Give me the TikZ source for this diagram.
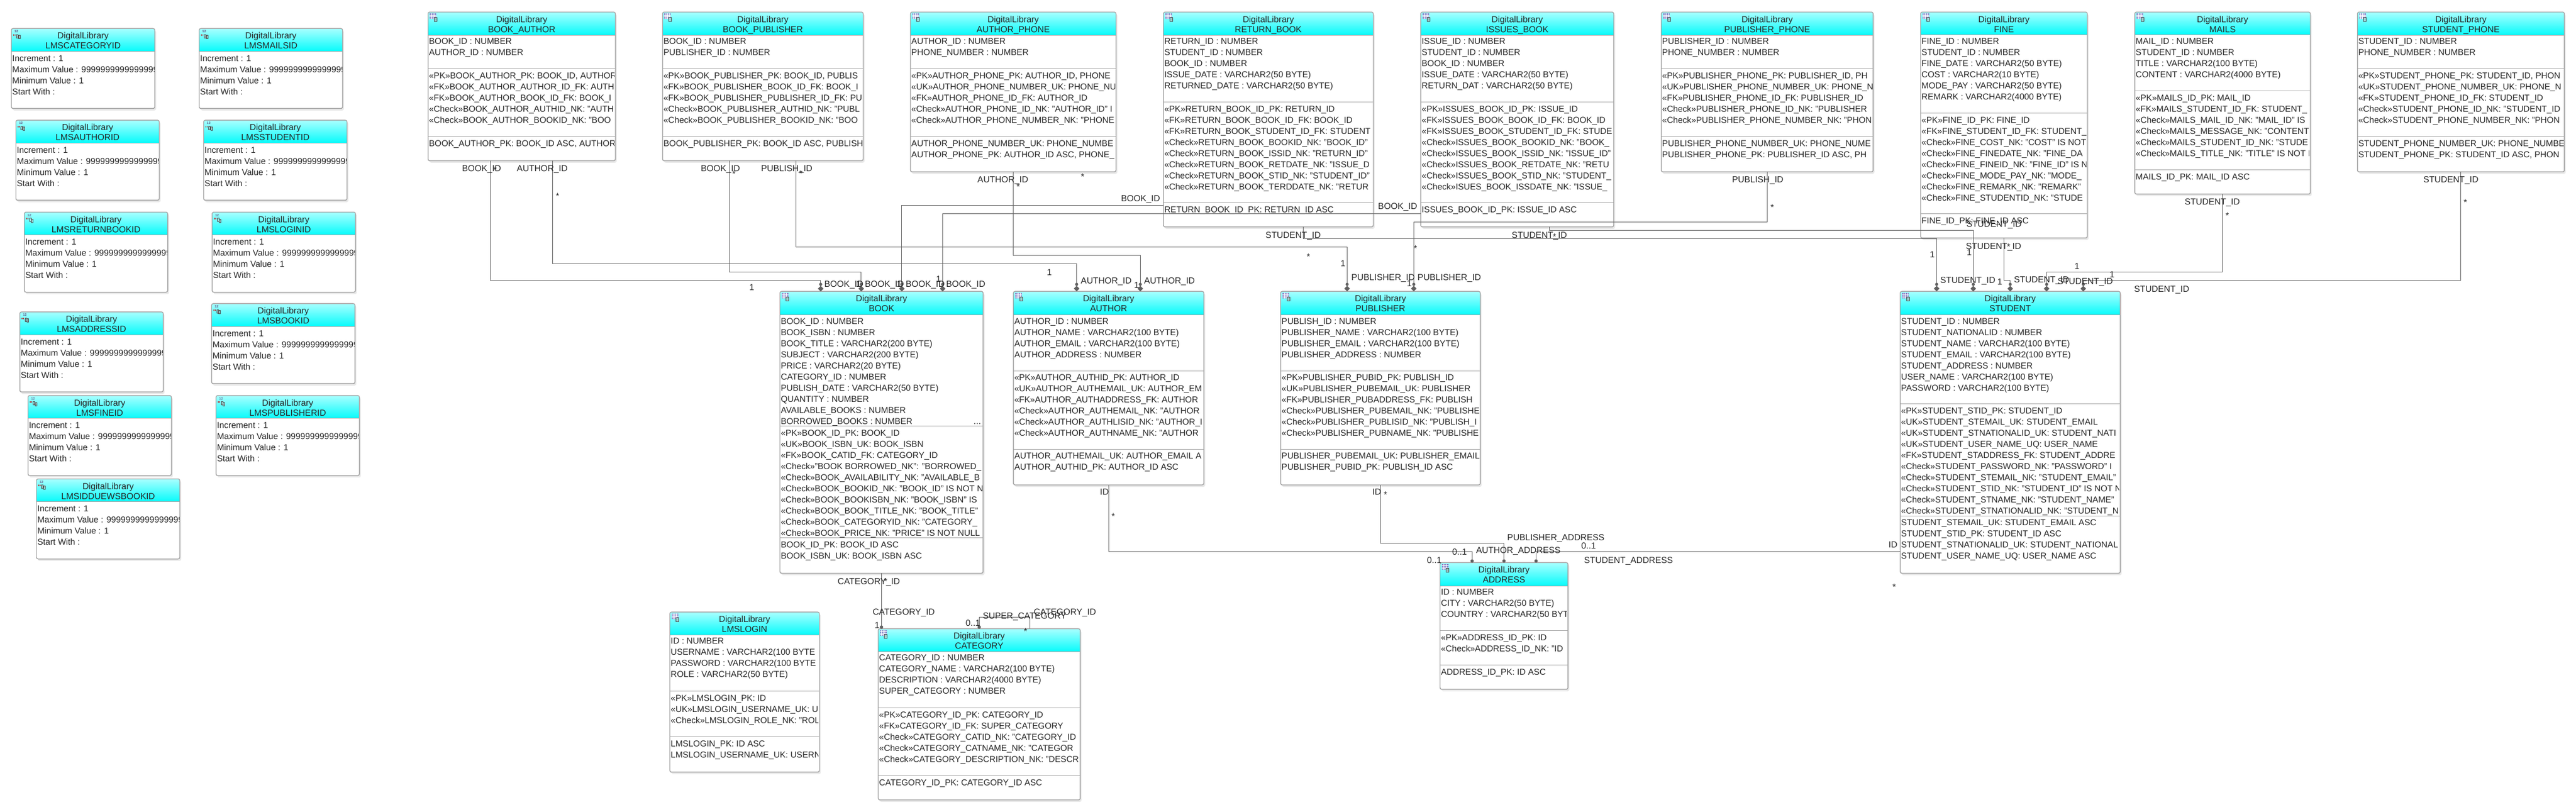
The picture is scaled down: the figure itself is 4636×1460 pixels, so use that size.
\documentclass[tikz,border=0pt]{standalone}
\usepackage{fontspec}
\setmainfont{Liberation Sans}
\usetikzlibrary{arrows.meta,shadows}
\definecolor{headtop}{HTML}{A8FFFF}
\definecolor{headbot}{HTML}{06FBFB}
\definecolor{framegray}{HTML}{A4A4A4}
\definecolor{linkgray}{HTML}{606060}
\definecolor{iconblue}{HTML}{8C8CCC}
\newcommand{\rowfont}{\fontsize{15.5}{20}\selectfont}
\newcommand{\linkfont}{\fontsize{15.8}{20}\selectfont}
\newcommand{\titlefont}{\fontsize{15.8}{18}\selectfont}
\tikzset{
    tablebox/.style={draw=framegray,fill=white,line width=1.2pt,rounded corners=3pt,inner sep=0pt,outer sep=0pt,
        drop shadow={shadow xshift=2.5pt,shadow yshift=-3.5pt,fill=black!40,opacity=.22}},
    frameline/.style={draw=framegray,line width=1.2pt},
    titletext/.style={font=\titlefont,align=center,inner sep=0pt,yshift=-5.6pt,text=black!85},
    rowtext/.style={font=\rowfont,align=left,anchor=north west,inner sep=0pt,xshift=1.5pt,text=black!85},
    linktext/.style={font=\linkfont,inner sep=0pt,text height=11.4pt,text depth=0pt,text=black!85},
    startext/.style={font=\linkfont,inner sep=0pt,yshift=-4pt,text=black!85},
    fklink/.style={draw=linkgray,line width=1pt,-{Circle[length=5.5pt] Diamond[length=10pt,width=10pt]}},
    nulllink/.style={draw=linkgray,line width=1pt,-{Circle[length=6pt]}},
}
% small grid with a page on it
\newcommand{\tableicon}[2]{
    \fill[iconblue] (#1,#2) rectangle ++(12,10);
    \foreach \k in {1,2,3} {
        \draw[white,line width=.4pt] (#1+3*\k,#2) -- ++(0,10);
        \draw[white,line width=.4pt] (#1,#2+2.5*\k) -- ++(12,0);
    }
    \filldraw[draw=black!70,fill=teal!40,line width=.4pt] (#1+8,#2+7) rectangle ++(5,7);
}
% name, left, right, top, bottom, header bottom, title
\newcommand{\dbtable}[7]{
    \node[tablebox,anchor=north west,minimum width={(#3-#2)*1pt},minimum height={(#5-#4)*1pt}] (#1) at (#2,#4) {};
    \shade[top color=headtop,bottom color=headbot] (#2,#6) [rounded corners=3pt] -- (#2,#4) -- (#3,#4) [sharp corners] -- (#3,#6) -- cycle;
    \draw[frameline] (#2,#6) -- (#3,#6);
    \draw[frameline,rounded corners=3pt] (#2,#4) rectangle (#3,#5);
    \tableicon{#2+3}{#4+2.6}
    \node[titletext,anchor=north] (#1head) at (#1.north) {\strut DigitalLibrary\\#7};
}
% name, header bottom, divider, divider, columns, constraints, indexes
\newcommand{\dbrows}[7]{
    \draw[frameline] (#1.west |- 0,#3) -- (#1.east |- 0,#3);
    \draw[frameline] (#1.west |- 0,#4) -- (#1.east |- 0,#4);
    \begin{scope}
        \clip ([xshift=1pt]#1.north west) rectangle ([xshift=-2pt]#1.south east);
        \node[rowtext] (#1attr) at ([yshift=-2pt]#1.west |- 0,#2) {\strut #5};
        \node[rowtext] (#1cons) at ([yshift=-3.5pt]#1.west |- 0,#3) {\strut #6};
        \node[rowtext] (#1idx) at ([yshift=-3.5pt]#1.west |- 0,#4) {\strut #7};
    \end{scope}
}
% name, left, top, title
\newcommand{\seqbox}[4]{
    \node[tablebox,anchor=north west,minimum width=258pt,minimum height=144pt] (#1) at (#2,#3) {};
    \shade[top color=headtop,bottom color=headbot] (#2,#3+41) [rounded corners=3pt] -- (#2,#3) -- (#2+258,#3) [sharp corners] -- (#2+258,#3+41) -- cycle;
    \draw[frameline] (#2,#3+41) -- (#2+258,#3+41);
    \draw[frameline,rounded corners=3pt] (#2,#3) rectangle (#2+258,#3+144);
    \node[font=\fontsize{6}{6}\selectfont\bfseries,text=iconblue!70!black,inner sep=0pt] (#1num) at (#2+9,#3+5.5) {12};
    \fill[red!80!black] (#2+3.5,#3+10.5) rectangle ++(1.2,2.5) (#2+6,#3+10.5) rectangle ++(1.2,2.5);
    \filldraw[draw=black!70,fill=teal!40,line width=.4pt] (#2+9,#3+10.5) rectangle ++(3,6) (#2+12.5,#3+12) rectangle ++(3,6);
    \node[titletext,anchor=north] (#1head) at (#1.north) {\strut DigitalLibrary\\#4};
    \begin{scope}
        \clip ([xshift=1pt]#1.north west) rectangle ([xshift=-1pt]#1.south east);
        \node[rowtext] (#1rows) at (#2,#3+44.5) {\strut Increment : 1\\Maximum Value : 9999999999999999999999999999\\Minimum Value : 1\\Start With :};
    \end{scope}
}
\begin{document}
\begin{tikzpicture}[x=1pt,y=-1pt]
    \useasboundingbox (0,0) rectangle (4636,1460);
    \foreach \n/\x/\y/\t in {seqcat/20.5/51.3/LMSCATEGORYID,seqmail/358.5/51.3/LMSMAILSID,
        seqauth/28.6/216.3/LMSAUTHORID,seqstud/366.5/216.3/LMSSTUDENTID,
        seqret/43.8/381.7/LMSRETURNBOOKID,seqlog/381.7/381.7/LMSLOGINID,
        seqaddr/35.7/561.3/LMSADDRESSID,seqbook/380.8/546.3/LMSBOOKID,
        seqfine/50.4/711.7/LMSFINEID,seqpub/388.8/711.7/LMSPUBLISHERID,
        seqdue/65.6/861.7/LMSIDDUEWSBOOKID} {
        \seqbox{\n}{\x}{\y}{\t}
    }

    \dbtable{bookauthor}{770.4}{1107.4}{21.7}{289.3}{63.3}{BOOK\_AUTHOR}
    \dbrows{bookauthor}{63.3}{123.3}{245.3}
        {BOOK\_ID : NUMBER\\AUTHOR\_ID : NUMBER}
        {«PK»BOOK\_AUTHOR\_PK: BOOK\_ID, AUTHOR\\«FK»BOOK\_AUTHOR\_AUTHOR\_ID\_FK: AUTH\\«FK»BOOK\_AUTHOR\_BOOK\_ID\_FK: BOOK\_I\\«Check»BOOK\_AUTHOR\_AUTHID\_NK: "AUTH\\«Check»BOOK\_AUTHOR\_BOOKID\_NK: "BOO}
        {BOOK\_AUTHOR\_PK: BOOK\_ID ASC, AUTHOR}

    \dbtable{bookpublisher}{1192.4}{1553.4}{21.7}{289.3}{63.3}{BOOK\_PUBLISHER}
    \dbrows{bookpublisher}{63.3}{123.3}{245.3}
        {BOOK\_ID : NUMBER\\PUBLISHER\_ID : NUMBER}
        {«PK»BOOK\_PUBLISHER\_PK: BOOK\_ID, PUBLIS\\«FK»BOOK\_PUBLISHER\_BOOK\_ID\_FK: BOOK\_I\\«FK»BOOK\_PUBLISHER\_PUBLISHER\_ID\_FK: PU\\«Check»BOOK\_PUBLISHER\_AUTHID\_NK: "PUBL\\«Check»BOOK\_PUBLISHER\_BOOKID\_NK: "BOO}
        {BOOK\_PUBLISHER\_PK: BOOK\_ID ASC, PUBLISH}

    \dbtable{authorphone}{1638.5}{2008.4}{21.7}{309.3}{63.3}{AUTHOR\_PHONE}
    \dbrows{authorphone}{63.3}{123.3}{245.3}
        {AUTHOR\_ID : NUMBER\\PHONE\_NUMBER : NUMBER}
        {«PK»AUTHOR\_PHONE\_PK: AUTHOR\_ID, PHONE\\«UK»AUTHOR\_PHONE\_NUMBER\_UK: PHONE\_NU\\«FK»AUTHOR\_PHONE\_ID\_FK: AUTHOR\_ID\\«Check»AUTHOR\_PHONE\_ID\_NK: "AUTHOR\_ID" I\\«Check»AUTHOR\_PHONE\_NUMBER\_NK: "PHONE}
        {AUTHOR\_PHONE\_NUMBER\_UK: PHONE\_NUMBE\\AUTHOR\_PHONE\_PK: AUTHOR\_ID ASC, PHONE\_}

    \dbtable{returnbook}{2093.8}{2471.4}{21.7}{408.3}{63.3}{RETURN\_BOOK}
    \dbrows{returnbook}{63.3}{183.3}{364.3}
        {RETURN\_ID : NUMBER\\STUDENT\_ID : NUMBER\\BOOK\_ID : NUMBER\\ISSUE\_DATE : VARCHAR2(50 BYTE)\\RETURNED\_DATE : VARCHAR2(50 BYTE)}
        {«PK»RETURN\_BOOK\_ID\_PK: RETURN\_ID\\«FK»RETURN\_BOOK\_BOOK\_ID\_FK: BOOK\_ID\\«FK»RETURN\_BOOK\_STUDENT\_ID\_FK: STUDENT\\«Check»RETURN\_BOOK\_BOOKID\_NK: "BOOK\_ID"\\«Check»RETURN\_BOOK\_ISSID\_NK: "RETURN\_ID"\\«Check»RETURN\_BOOK\_RETDATE\_NK: "ISSUE\_D\\«Check»RETURN\_BOOK\_STID\_NK: "STUDENT\_ID"\\«Check»RETURN\_BOOK\_TERDDATE\_NK: "RETUR}
        {RETURN\_BOOK\_ID\_PK: RETURN\_ID ASC}

    \dbtable{issuesbook}{2556.9}{2904.2}{21.7}{408.3}{63.3}{ISSUES\_BOOK}
    \dbrows{issuesbook}{63.3}{183.3}{364.3}
        {ISSUE\_ID : NUMBER\\STUDENT\_ID : NUMBER\\BOOK\_ID : NUMBER\\ISSUE\_DATE : VARCHAR2(50 BYTE)\\RETURN\_DAT : VARCHAR2(50 BYTE)}
        {«PK»ISSUES\_BOOK\_ID\_PK: ISSUE\_ID\\«FK»ISSUES\_BOOK\_BOOK\_ID\_FK: BOOK\_ID\\«FK»ISSUES\_BOOK\_STUDENT\_ID\_FK: STUDE\\«Check»ISSUES\_BOOK\_BOOKID\_NK: "BOOK\_\\«Check»ISSUES\_BOOK\_ISSID\_NK: "ISSUE\_ID"\\«Check»ISSUES\_BOOK\_RETDATE\_NK: "RETU\\«Check»ISSUES\_BOOK\_STID\_NK: "STUDENT\_\\«Check»ISUES\_BOOK\_ISSDATE\_NK: "ISSUE\_}
        {ISSUES\_BOOK\_ID\_PK: ISSUE\_ID ASC}

    \dbtable{publisherphone}{2989.7}{3371}{21.7}{309.3}{63.3}{PUBLISHER\_PHONE}
    \dbrows{publisherphone}{63.3}{123.3}{245.3}
        {PUBLISHER\_ID : NUMBER\\PHONE\_NUMBER : NUMBER}
        {«PK»PUBLISHER\_PHONE\_PK: PUBLISHER\_ID, PH\\«UK»PUBLISHER\_PHONE\_NUMBER\_UK: PHONE\_N\\«FK»PUBLISHER\_PHONE\_ID\_FK: PUBLISHER\_ID\\«Check»PUBLISHER\_PHONE\_ID\_NK: "PUBLISHER\\«Check»PUBLISHER\_PHONE\_NUMBER\_NK: "PHON}
        {PUBLISHER\_PHONE\_NUMBER\_UK: PHONE\_NUME\\PUBLISHER\_PHONE\_PK: PUBLISHER\_ID ASC, PH}

    \dbtable{fine}{3456.5}{3756.4}{21.7}{428.3}{62.3}{FINE}
    \dbrows{fine}{63.3}{203.3}{384.3}
        {FINE\_ID : NUMBER\\STUDENT\_ID : NUMBER\\FINE\_DATE : VARCHAR2(50 BYTE)\\COST : VARCHAR2(10 BYTE)\\MODE\_PAY : VARCHAR2(50 BYTE)\\REMARK : VARCHAR2(4000 BYTE)}
        {«PK»FINE\_ID\_PK: FINE\_ID\\«FK»FINE\_STUDENT\_ID\_FK: STUDENT\_\\«Check»FINE\_COST\_NK: "COST" IS NOT\\«Check»FINE\_FINEDATE\_NK: "FINE\_DA\\«Check»FINE\_FINEID\_NK: "FINE\_ID" IS N\\«Check»FINE\_MODE\_PAY\_NK: "MODE\_\\«Check»FINE\_REMARK\_NK: "REMARK"\\«Check»FINE\_STUDENTID\_NK: "STUDE}
        {FINE\_ID\_PK: FINE\_ID ASC}

    \dbtable{mails}{3842}{4157.8}{21.7}{349.3}{62.3}{MAILS}
    \dbrows{mails}{63.3}{163.3}{305.3}
        {MAIL\_ID : NUMBER\\STUDENT\_ID : NUMBER\\TITLE : VARCHAR2(100 BYTE)\\CONTENT : VARCHAR2(4000 BYTE)}
        {«PK»MAILS\_ID\_PK: MAIL\_ID\\«FK»MAILS\_STUDENT\_ID\_FK: STUDENT\_\\«Check»MAILS\_MAIL\_ID\_NK: "MAIL\_ID" IS\\«Check»MAILS\_MESSAGE\_NK: "CONTENT\\«Check»MAILS\_STUDENT\_ID\_NK: "STUDE\\«Check»MAILS\_TITLE\_NK: "TITLE" IS NOT N}
        {MAILS\_ID\_PK: MAIL\_ID ASC}

    \dbtable{studentphone}{4242.6}{4615}{21.7}{309.3}{63.3}{STUDENT\_PHONE}
    \dbrows{studentphone}{63.3}{123.3}{245.3}
        {STUDENT\_ID : NUMBER\\PHONE\_NUMBER : NUMBER}
        {«PK»STUDENT\_PHONE\_PK: STUDENT\_ID, PHON\\«UK»STUDENT\_PHONE\_NUMBER\_UK: PHONE\_N\\«FK»STUDENT\_PHONE\_ID\_FK: STUDENT\_ID\\«Check»STUDENT\_PHONE\_ID\_NK: "STUDENT\_ID\\«Check»STUDENT\_PHONE\_NUMBER\_NK: "PHON}
        {STUDENT\_PHONE\_NUMBER\_UK: PHONE\_NUMBE\\STUDENT\_PHONE\_PK: STUDENT\_ID ASC, PHON}

    \dbtable{book}{1403.6}{1769.3}{524.3}{1031.4}{566.8}{BOOK}
    \dbrows{book}{566.8}{766.4}{967.5}
        {BOOK\_ID : NUMBER\\BOOK\_ISBN : NUMBER\\BOOK\_TITLE : VARCHAR2(200 BYTE)\\SUBJECT : VARCHAR2(200 BYTE)\\PRICE : VARCHAR2(20 BYTE)\\CATEGORY\_ID : NUMBER\\PUBLISH\_DATE : VARCHAR2(50 BYTE)\\QUANTITY : NUMBER\\AVAILABLE\_BOOKS : NUMBER\\BORROWED\_BOOKS : NUMBER}
        {«PK»BOOK\_ID\_PK: BOOK\_ID\\«UK»BOOK\_ISBN\_UK: BOOK\_ISBN\\«FK»BOOK\_CATID\_FK: CATEGORY\_ID\\«Check»"BOOK BORROWED\_NK": "BORROWED\_\\«Check»BOOK\_AVAILABILITY\_NK: "AVAILABLE\_B\\«Check»BOOK\_BOOKID\_NK: "BOOK\_ID" IS NOT N\\«Check»BOOK\_BOOKISBN\_NK: "BOOK\_ISBN" IS\\«Check»BOOK\_BOOK\_TITLE\_NK: "BOOK\_TITLE"\\«Check»BOOK\_CATEGORYID\_NK: "CATEGORY\_\\«Check»BOOK\_PRICE\_NK: "PRICE" IS NOT NULL}
        {BOOK\_ID\_PK: BOOK\_ID ASC\\BOOK\_ISBN\_UK: BOOK\_ISBN ASC}

    \dbtable{author}{1823.8}{2166.5}{524.3}{872.5}{566.8}{AUTHOR}
    \dbrows{author}{566.8}{667.1}{808.2}
        {AUTHOR\_ID : NUMBER\\AUTHOR\_NAME : VARCHAR2(100 BYTE)\\AUTHOR\_EMAIL : VARCHAR2(100 BYTE)\\AUTHOR\_ADDRESS : NUMBER}
        {«PK»AUTHOR\_AUTHID\_PK: AUTHOR\_ID\\«UK»AUTHOR\_AUTHEMAIL\_UK: AUTHOR\_EM\\«FK»AUTHOR\_AUTHADDRESS\_FK: AUTHOR\\«Check»AUTHOR\_AUTHEMAIL\_NK: "AUTHOR\\«Check»AUTHOR\_AUTHLISID\_NK: "AUTHOR\_I\\«Check»AUTHOR\_AUTHNAME\_NK: "AUTHOR}
        {AUTHOR\_AUTHEMAIL\_UK: AUTHOR\_EMAIL A\\AUTHOR\_AUTHID\_PK: AUTHOR\_ID ASC}

    \dbtable{publisher}{2304.7}{2664}{524.3}{872.5}{566.8}{PUBLISHER}
    \dbrows{publisher}{566.8}{667.1}{808.2}
        {PUBLISH\_ID : NUMBER\\PUBLISHER\_NAME : VARCHAR2(100 BYTE)\\PUBLISHER\_EMAIL : VARCHAR2(100 BYTE)\\PUBLISHER\_ADDRESS : NUMBER}
        {«PK»PUBLISHER\_PUBID\_PK: PUBLISH\_ID\\«UK»PUBLISHER\_PUBEMAIL\_UK: PUBLISHER\\«FK»PUBLISHER\_PUBADDRESS\_FK: PUBLISH\\«Check»PUBLISHER\_PUBEMAIL\_NK: "PUBLISHE\\«Check»PUBLISHER\_PUBLISID\_NK: "PUBLISH\_I\\«Check»PUBLISHER\_PUBNAME\_NK: "PUBLISHE}
        {PUBLISHER\_PUBEMAIL\_UK: PUBLISHER\_EMAIL\\PUBLISHER\_PUBID\_PK: PUBLISH\_ID ASC}

    \dbtable{student}{3419.7}{3815.8}{524.3}{1031.4}{566.8}{STUDENT}
    \dbrows{student}{566.8}{726.4}{928.2}
        {STUDENT\_ID : NUMBER\\STUDENT\_NATIONALID : NUMBER\\STUDENT\_NAME : VARCHAR2(100 BYTE)\\STUDENT\_EMAIL : VARCHAR2(100 BYTE)\\STUDENT\_ADDRESS : NUMBER\\USER\_NAME : VARCHAR2(100 BYTE)\\PASSWORD : VARCHAR2(100 BYTE)}
        {«PK»STUDENT\_STID\_PK: STUDENT\_ID\\«UK»STUDENT\_STEMAIL\_UK: STUDENT\_EMAIL\\«UK»STUDENT\_STNATIONALID\_UK: STUDENT\_NATI\\«UK»STUDENT\_USER\_NAME\_UQ: USER\_NAME\\«FK»STUDENT\_STADDRESS\_FK: STUDENT\_ADDRE\\«Check»STUDENT\_PASSWORD\_NK: "PASSWORD" I\\«Check»STUDENT\_STEMAIL\_NK: "STUDENT\_EMAIL"\\«Check»STUDENT\_STID\_NK: "STUDENT\_ID" IS NOT N\\«Check»STUDENT\_STNAME\_NK: "STUDENT\_NAME"\\«Check»STUDENT\_STNATIONALID\_NK: "STUDENT\_N}
        {STUDENT\_STEMAIL\_UK: STUDENT\_EMAIL ASC\\STUDENT\_STID\_PK: STUDENT\_ID ASC\\STUDENT\_STNATIONALID\_UK: STUDENT\_NATIONAL\\STUDENT\_USER\_NAME\_UQ: USER\_NAME ASC}

    \dbtable{lmslogin}{1205.5}{1474.6}{1101.3}{1389.3}{1142.3}{LMSLOGIN}
    \dbrows{lmslogin}{1142.3}{1243.3}{1325.3}
        {ID : NUMBER\\USERNAME : VARCHAR2(100 BYTE\\PASSWORD : VARCHAR2(100 BYTE\\ROLE : VARCHAR2(50 BYTE)}
        {«PK»LMSLOGIN\_PK: ID\\«UK»LMSLOGIN\_USERNAME\_UK: U\\«Check»LMSLOGIN\_ROLE\_NK: "ROL}
        {LMSLOGIN\_PK: ID ASC\\LMSLOGIN\_USERNAME\_UK: USERN}

    \dbtable{category}{1580.5}{1944}{1131.3}{1439.3}{1172.7}{CATEGORY}
    \dbrows{category}{1172.7}{1273.3}{1395.3}
        {CATEGORY\_ID : NUMBER\\CATEGORY\_NAME : VARCHAR2(100 BYTE)\\DESCRIPTION : VARCHAR2(4000 BYTE)\\SUPER\_CATEGORY : NUMBER}
        {«PK»CATEGORY\_ID\_PK: CATEGORY\_ID\\«FK»CATEGORY\_ID\_FK: SUPER\_CATEGORY\\«Check»CATEGORY\_CATID\_NK: "CATEGORY\_ID\\«Check»CATEGORY\_CATNAME\_NK: "CATEGOR\\«Check»CATEGORY\_DESCRIPTION\_NK: "DESCR}
        {CATEGORY\_ID\_PK: CATEGORY\_ID ASC}

    \dbtable{address}{2591.6}{2821.8}{1012.3}{1240.3}{1054.3}{ADDRESS}
    \dbrows{address}{1054.3}{1134.3}{1196.3}
        {ID : NUMBER\\CITY : VARCHAR2(50 BYTE)\\COUNTRY : VARCHAR2(50 BYT}
        {«PK»ADDRESS\_ID\_PK: ID\\«Check»ADDRESS\_ID\_NK: "ID}
        {ADDRESS\_ID\_PK: ID ASC}

    % links: source, shift on source, drop, target, shift on target
    \foreach \a/\s/\d/\b/\t in {bookauthor/-56.5/215/book/-109.5,bookpublisher/-60.6/200/book/-36.5,
        bookauthor/55.4/185/author/-57.5,authorphone/0/150/author/57,
        bookpublisher/60/155/publisher/-60,publisherphone/0/90/publisher/60,
        returnbook/63.2/21/student/-132.4,issuesbook/57.5/6/student/-66.5,
        fine/0/76/student/0,mails/0/140/student/65.5,studentphone/0/195/student/131.5} {
        \draw[fklink] ([xshift=\s pt]\a.south) -- ++(0,\d) -| ([xshift=\t pt]\b.north);
    }
    \draw[fklink] ([yshift=-154.3pt]returnbook.west) -| ([xshift=36.5pt]book.north);
    \draw[fklink] ([yshift=-169.3pt]issuesbook.west) -| ([xshift=110pt]book.north);
    \draw[nulllink] (author.south) -- ++(0,119.6) -| ([xshift=-57.4pt]address.north);
    \draw[nulllink] (publisher.south) -- ++(0,105) -| (address.north);
    \draw[nulllink] ([yshift=-214.25pt]student.west) -| ([xshift=57.7pt]address.north);
    \draw[nulllink] (book.south) -- ([xshift=-175.85pt]category.north);
    \draw[nulllink] ([xshift=91.3pt]category.north) -- ++(0,-21) -| (category.north);

    % column names on the links, by left end
    \foreach \x/\y/\t [count=\i] in {831.3/302.3/BOOK\_ID,930/302.3/AUTHOR\_ID,1261.2/302.3/BOOK\_ID,1369.7/302.3/PUBLISH\_ID,
        1483.4/511/BOOK\_ID,1556.3/511/BOOK\_ID,1629.8/511/BOOK\_ID,1702.7/511/BOOK\_ID,
        1759/322.3/AUTHOR\_ID,2017.3/356.3/BOOK\_ID,2480/371/BOOK\_ID,2277.5/422.3/STUDENT\_ID,
        1945/504.3/AUTHOR\_ID,2058.8/504.3/AUTHOR\_ID,2431.9/498.3/PUBLISHER\_ID,2551/498.3/PUBLISHER\_ID,
        2720.5/422.3/STUDENT\_ID,3117.2/322.3/PUBLISH\_ID,3538.8/402.7/STUDENT\_ID,3538/442.3/STUDENT\_ID,
        3491.6/503.3/STUDENT\_ID,3624.4/502.7/STUDENT\_ID,3703/505.3/STUDENT\_ID,3931.5/362.3/STUDENT\_ID,
        4361/322.3/STUDENT\_ID,3840.6/520/STUDENT\_ID,1507.5/1045.4/CATEGORY\_ID,1979.4/885/ID,2469.6/885/ID,
        2712.5/967/PUBLISHER\_ADDRESS,2656.3/990/AUTHOR\_ADDRESS,2850.7/1008/STUDENT\_ADDRESS,3398.7/979.3/ID,
        1570.3/1100.3/CATEGORY\_ID,1768.6/1108/SUPER\_CATEGORY,1860.5/1101/CATEGORY\_ID} {
        \node[linktext,anchor=west] (colname\i) at (\x,\y) {\t};
    }
    \node[linktext,anchor=west] (bookmore) at (1752,758) {...};
    % multiplicities, by centre
    \foreach \x/\y/\t [count=\i] in {1353/517/1,1545/511/1,1618/511/1,1689/502/1,1888.5/490/1,2045.4/513/1,
        2417/474/1,2536.5/510/1,3477.5/457.3/1,3543.9/454/1,3599/506.7/1,3738/478.7/1,3801/493.3/1,1578.6/1124.3/1,
        2859/981.4/{0..1},2626.8/993/{0..1},2581.3/1008/{0..1},1751/1121/{0..1}} {
        \node[linktext] (mult\i) at (\x,\y) {\t};
    }
    \foreach \x/\y [count=\i] in {891/301.7,1003.5/349,1321/309.3,1441.5/308.3,1832.4/332,1948.4/314.3,2354.7/457.7,
        2547.3/443.3,2797.7/421.7,3189.3/369,3615/440,4008.3/384,4437/360,1594/1042,2003.5/925,2493.5/885.7,
        3409/1052.5,1845.8/1132} {
        \node[startext] (many\i) at (\x,\y) {*};
    }
\end{tikzpicture}
\end{document}
